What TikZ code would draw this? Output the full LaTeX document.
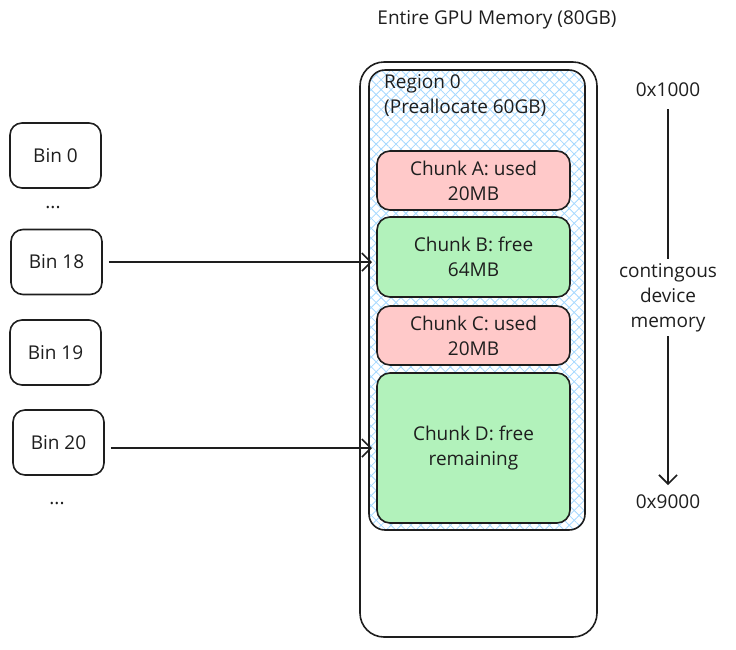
\documentclass[tikz,border=0pt]{standalone}
\usepackage{fontspec}
\setmainfont{Open Sans}
\usetikzlibrary{arrows.meta,patterns.meta}
\definecolor{ink}{HTML}{1E1E1E}
\definecolor{usedfill}{HTML}{FFC9C9}
\definecolor{freefill}{HTML}{B2F2BB}
\definecolor{hatch}{HTML}{A5D8FF}
\begin{document}
\begin{tikzpicture}[x=1pt,y=-1pt,
  every node/.style={font=\fontsize{19}{25}\selectfont, text=ink, align=center},
  binbox/.style={draw=ink, line width=1.6pt, rounded corners=12pt, minimum width=91pt, minimum height=65pt, fill=white},
  chunkbox/.style={draw=ink, line width=1.6pt, rounded corners=13pt, minimum width=193pt, inner sep=0pt},
  used/.style={chunkbox, fill=usedfill},
  free/.style={chunkbox, fill=freefill},
  link/.style={draw=ink, line width=1.6pt, -{Straight Barb[length=9pt,width=18pt,line width=1.6pt]}}
]
\useasboundingbox (0,0) rectangle (736,649);

% title
\node (title) at (497,20) {Entire GPU Memory (80GB)};

% outer memory box
\draw[ink, line width=1.6pt, rounded corners=24pt] (360,62) rectangle (597,637);

% region box with hatch
\path[pattern={Lines[angle=45,distance=7pt,line width=0.8pt]}, pattern color=hatch, rounded corners=16pt] (369,70) rectangle (585,530);
\path[pattern={Lines[angle=-45,distance=7pt,line width=0.8pt]}, pattern color=hatch, rounded corners=16pt] (369,70) rectangle (585,530);
\draw[ink, line width=1.6pt, rounded corners=16pt] (369,70) rectangle (585,530);
\node[anchor=west, align=left, inner sep=0pt] (region) at (384,96) {Region 0\\(Preallocate 60GB)};

% chunks
\node[used, minimum height=59pt] (chA) at (473.5,180.5) {Chunk A: used\\20MB};
\node[free, minimum height=80pt] (chB) at (473.5,257) {Chunk B: free\\64MB};
\node[used, minimum height=59pt] (chC) at (473.5,335.5) {Chunk C: used\\20MB};
\node[free, minimum height=150pt] (chD) at (473.5,448) {Chunk D: free\\remaining};

% bins
\node[binbox] (b0) at (55.5,155.5) {Bin 0};
\node (d1) at (53,208) {...};
\node[binbox] (b18) at (56.5,262) {Bin 18};
\node[binbox] (b19) at (55.5,352.5) {Bin 19};
\node[binbox] (b20) at (58.5,442.5) {Bin 20};
\node (d2) at (57,503) {...};

\coordinate (tB) at (372,262);
\coordinate (tD) at (372,448);
\draw[link] ([xshift=6pt]b18.east |- tB) -- (tB);
\draw[link] ([xshift=6pt]b20.east |- tD) -- (tD);

% address axis
\node (a0) at (668,90) {0x1000};
\node (mid) at (668,298) {contingous\\device\\memory};
\node (a9) at (668,502) {0x9000};
\draw[ink, line width=1.6pt] (a0.south |- 0,109) -- (668,259);
\draw[link] (668,336) -- (668,485);
\end{tikzpicture}
\end{document}
